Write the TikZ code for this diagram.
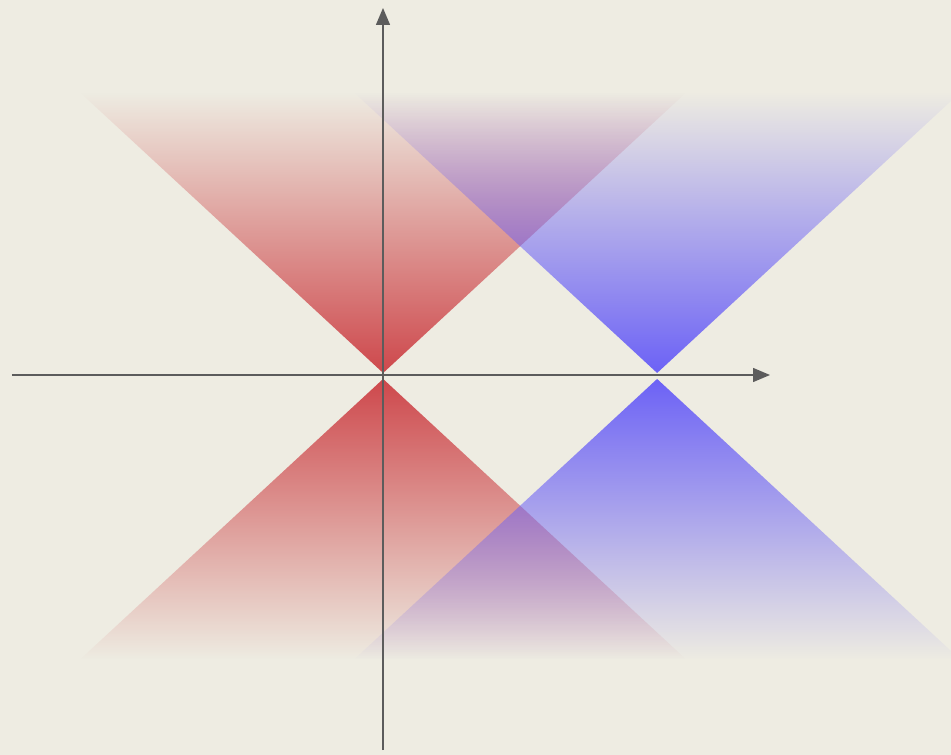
\documentclass[tikz,border=0pt]{standalone}
\usepackage{tikz}
\usepackage{xcolor}
\usetikzlibrary{arrows.meta, fadings}
\definecolor{cBack}{RGB}{238,236,226}
\definecolor{cRed}{RGB}{206,72,76}
\definecolor{cBlue}{RGB}{108,98,246}
\definecolor{cAxis}{RGB}{92,92,92}
\tikzfading[name=fadeup, top color=transparent!100, middle color=transparent!42, bottom color=transparent!0]
\tikzfading[name=fadedown, top color=transparent!0, middle color=transparent!42, bottom color=transparent!100]
\tikzset{
	axis/.style={draw=cAxis, line width=0.8pt, -{Triangle[length=0.34cm, width=0.28cm]}},
	upcone/.style={path fading=fadeup, fit fading=true},
	downcone/.style={path fading=fadedown, fit fading=true},
}
\begin{document}
\begin{tikzpicture}
	% page and background
	\useasboundingbox (-7.66,-7.6) rectangle (11.36,7.5);
	\clip (-7.66,-7.6) rectangle (11.36,7.5);
	\fill[cBack] (-7.66,-7.6) rectangle (11.36,7.5);
	\def\h{5.6}
	\def\w{6.05}
	% apexes of the two cones
	\coordinate (O) at (0,0);
	\coordinate (P) at (5.48,0);
	\foreach \apex/\col in {O/cRed, P/cBlue} {
		\fill[\col, upcone] ([yshift=0.04cm]\apex) -- ++(-\w,\h) -- ++(2*\w,0) -- cycle;
		\fill[\col, downcone] ([yshift=-0.08cm]\apex) -- ++(-\w,-\h) -- ++(2*\w,0) -- cycle;
	}
	% axes
	\coordinate (xl) at (-7.42,0);
	\coordinate (xr) at (7.74,0);
	\coordinate (yb) at (0,-7.5);
	\coordinate (yt) at (0,7.34);
	\draw[axis] (xl) -- (xr);
	\draw[axis] (yb) -- (yt);
\end{tikzpicture}
\end{document}
